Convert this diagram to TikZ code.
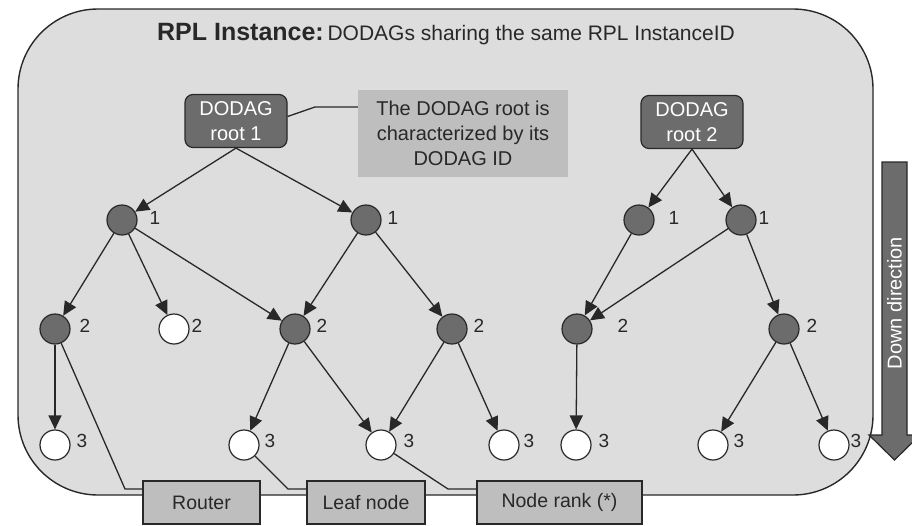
\documentclass[tikz,border=0pt]{standalone}
\usepackage{fontspec}
\setmainfont{Liberation Sans}
\usetikzlibrary{arrows.meta}
\definecolor{panel}{RGB}{221,221,221}
\definecolor{darknode}{RGB}{108,108,108}
\definecolor{midgray}{RGB}{190,190,190}
\definecolor{ink}{RGB}{40,40,40}

\begin{document}
\begin{tikzpicture}[x=1pt,y=-1pt,
  rootbox/.style={draw=ink, line width=1.2pt, fill=darknode, rounded corners=8pt,
    minimum width=102pt, minimum height=53pt, inner sep=0pt, text=white,
    align=center, font=\fontsize{20}{25}\selectfont},
  routernode/.style={circle, draw=ink, line width=1.2pt, fill=darknode,
    minimum size=30pt, inner sep=0pt},
  leafnode/.style={routernode, fill=white},
  ranklabel/.style={font=\fontsize{19}{22}\selectfont, text=ink, inner sep=0pt},
  linkarrow/.style={draw=ink, line width=1.3pt, -{Triangle[length=14pt,width=13pt]}},
  pointer/.style={draw=ink, line width=1.3pt},
  tagbox/.style={draw=ink, line width=1.5pt, fill=midgray, minimum height=43pt,
    inner sep=0pt, font=\fontsize{19.5}{22}\selectfont, text=ink}]

\useasboundingbox (0,0) rectangle (912,525);

% instance panel
\draw[draw=ink, line width=1.4pt, fill=panel, rounded corners=80pt] (18,9) rectangle (873,495);

\node[anchor=base, text=ink, inner sep=0pt] (title) at (446,40)
  {{\fontsize{25}{30}\selectfont\bfseries RPL Instance:} {\fontsize{21}{25}\selectfont DODAGs sharing the same RPL InstanceID}};

% down direction arrow
\draw[draw=ink, line width=1.2pt, fill=darknode]
  (882,162) -- (907,162) -- (907,435) -- (920,435) -- (894.5,460) -- (869,435) -- (882,435) -- cycle;
\node[rotate=90, text=white, inner sep=0pt, font=\fontsize{20}{24}\selectfont] (down) at (894.5,303) {Down direction};

% roots and callout
\node[rootbox] (root1) at (236,121) {DODAG\\root 1};
\node[rootbox] (root2) at (692,122) {DODAG\\root 2};
\node[fill=midgray, minimum width=210pt, minimum height=87pt, inner sep=0pt, align=center,
  text=ink, font=\fontsize{20}{25}\selectfont] (callout) at (463,133.5)
  {The DODAG root is\\characterized by its\\DODAG ID};
\coordinate (cbend) at (315,107);
\draw[pointer] (root1.5) -- (cbend) -- ([yshift=26.5pt]callout.west);

% rank 1
\node[routernode] (a1) at (122,220) {};
\node[routernode] (b1) at (366,220) {};
\node[routernode] (c1) at (639,220) {};
\node[routernode] (d1) at (741,220) {};
% rank 2
\node[routernode] (a2) at (55,329) {};
\node[leafnode]   (b2) at (174,329) {};
\node[routernode] (c2) at (295,329) {};
\node[routernode] (d2) at (452,329) {};
\node[routernode] (e2) at (577,329) {};
\node[routernode] (f2) at (784,329) {};
% rank 3
\node[leafnode] (a3) at (55,445) {};
\node[leafnode] (b3) at (244,445) {};
\node[leafnode] (c3) at (381,445) {};
\node[leafnode] (d3) at (504,445) {};
\node[leafnode] (e3) at (576,445) {};
\node[leafnode] (f3) at (713,445) {};
\node[leafnode] (g3) at (834,445) {};

% rank labels
\node[ranklabel] (la1) at (155,218) {1};
\node[ranklabel] (lb1) at (393,218) {1};
\node[ranklabel] (lc1) at (674,218) {1};
\node[ranklabel] (ld1) at (764,218) {1};
\node[ranklabel] (la2) at (85,326) {2};
\node[ranklabel] (lb2) at (197,326) {2};
\node[ranklabel] (lc2) at (322,326) {2};
\node[ranklabel] (ld2) at (479,326) {2};
\node[ranklabel] (le2) at (623,326) {2};
\node[ranklabel] (lf2) at (812,326) {2};
\node[ranklabel] (la3) at (82,441) {3};
\node[ranklabel] (lb3) at (270,441) {3};
\node[ranklabel] (lc3) at (409,441) {3};
\node[ranklabel] (ld3) at (529,441) {3};
\node[ranklabel] (le3) at (604,441) {3};
\node[ranklabel] (lf3) at (739,441) {3};
\node[ranklabel] (lg3) at (856,441) {3};

% DODAG 1 links
\draw[linkarrow] (root1.south) -- (a1);
\draw[linkarrow] (root1.south) -- (b1);
\draw[linkarrow] (a1) -- (a2);
\draw[linkarrow] (a1) -- (b2);
\draw[linkarrow] (a1) -- (c2);
\draw[linkarrow] (b1) -- (c2);
\draw[linkarrow] (b1) -- (d2);
\draw[linkarrow] (a2) -- (a3);
\draw[linkarrow] (c2) -- (b3);
\draw[linkarrow] (c2) -- (c3);
\draw[linkarrow] (d2) -- (c3);
\draw[linkarrow] (d2) -- (d3);
% DODAG 2 links
\draw[linkarrow] (root2.south) -- (c1);
\draw[linkarrow] (root2.south) -- (d1);
\draw[linkarrow] (c1) -- (e2);
\draw[linkarrow] (d1) -- (e2);
\draw[linkarrow] (d1) -- (f2);
\draw[linkarrow] (e2) -- (e3);
\draw[linkarrow] (f2) -- (f3);
\draw[linkarrow] (f2) -- (g3);

% legend boxes with their pointers
\coordinate (rbend) at (125,489);
\coordinate (lbend) at (288,489);
\coordinate (nbend) at (448,489);
\node[tagbox, minimum width=117pt] (router) at (201.5,502.5) {Router};
\node[tagbox, minimum width=118pt] (leaf) at (366,502.5) {Leaf node};
\node[tagbox, minimum width=165pt] (noderank) at (559.5,502.5) {Node rank (*)};
\draw[pointer] (a2) -- (rbend) -- ([yshift=13.5pt]router.west);
\draw[pointer] (b3) -- (lbend) -- ([yshift=13.5pt]leaf.west);
\draw[pointer] (c3) -- (nbend) -- ([yshift=13.5pt]noderank.west);
\end{tikzpicture}
\end{document}
